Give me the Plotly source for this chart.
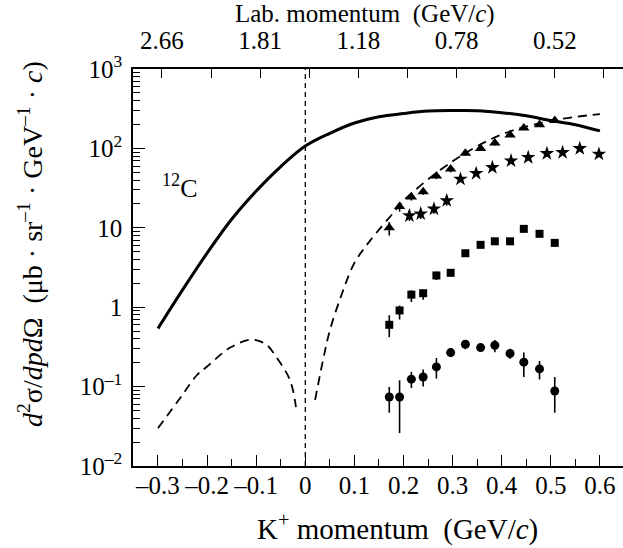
import plotly.graph_objects as go

# ---------------- data ----------------
# theory curves (K+ momentum GeV/c, cross section)
solid_p = [-0.30, -0.25, -0.20, -0.15, -0.10, -0.05, 0.00, 0.05, 0.10, 0.15, 0.20, 0.25, 0.30, 0.35, 0.40, 0.45, 0.50, 0.55, 0.60]
solid_v = [0.54, 1.65, 4.8, 12.8, 29, 59, 107, 155, 209, 251, 275, 295, 300, 299, 282, 257, 224, 199, 166]

dash_left_p = [-0.30, -0.25, -0.221, -0.20, -0.153, -0.109, -0.08, -0.058, -0.031, -0.019]
dash_left_v = [0.030, 0.079, 0.139, 0.179, 0.31, 0.39, 0.34, 0.23, 0.12, 0.055]

dash_right_p = [0.02, 0.035, 0.05, 0.075, 0.10, 0.132, 0.183, 0.20, 0.30, 0.40, 0.50, 0.60]
dash_right_v = [0.068, 0.2, 0.51, 1.5, 3.6, 6.9, 16.4, 22, 69, 150, 222, 271]

# measured points
p_data = [0.171, 0.192, 0.216, 0.240, 0.267, 0.296, 0.326, 0.357, 0.386, 0.417, 0.445, 0.477, 0.508]

circles = [0.074, 0.074, 0.124, 0.132, 0.177, 0.268, 0.341, 0.310, 0.331, 0.261, 0.203, 0.167, 0.088]
circ_hi = [0.099, 0.12, 0.153, 0.164, 0.229, 0.305, 0.38, 0.345, 0.385, 0.30, 0.268, 0.21, 0.132]
circ_lo = [0.047, 0.026, 0.096, 0.10, 0.126, 0.235, 0.296, 0.28, 0.27, 0.225, 0.132, 0.123, 0.047]

squares = [0.60, 0.91, 1.44, 1.50, 2.51, 2.71, 4.78, 6.1, 6.76, 6.76, 9.7, 8.4, 6.46]
sq_hi = [0.79, 1.05, 1.63, 1.66, 2.8, 3.0, 5.2, 6.6, 7.3, 7.3, 10.5, 9.0, 7.1]
sq_lo = [0.42, 0.70, 1.16, 1.24, 2.2, 2.45, 4.4, 5.6, 6.2, 6.2, 9.0, 7.8, 5.8]

triangles = [10, 18.6, 24.5, 28.5, 45, 55, 87, 100, 117, 148, 181, 198, 225]
tri_hi = [11.8, 21, 27, 31, 49, 60, 93, 107, 125, 157, 192, 210, 238]
tri_lo = [8.0, 16, 22, 26, 41, 50, 81, 93, 109, 139, 170, 186, 212]

p_star = [0.212, 0.235, 0.262, 0.288, 0.316, 0.348, 0.381, 0.419, 0.454, 0.492, 0.524, 0.559, 0.598]
stars = [14.2, 15.0, 17.3, 22, 41, 48.4, 57.5, 69.8, 76.9, 86.3, 88.8, 99.7, 84.8]
star_hi = [16.5, 17.5, 20, 25.5, 44, 52, 61.5, 74, 81.5, 91, 94, 106, 90]
star_lo = [12.2, 12.9, 15, 19, 38, 45, 54, 66, 72.5, 82, 84, 94, 80]

# axis ticks
x_tickvals = [-0.3, -0.2, -0.1, 0.0, 0.1, 0.2, 0.3, 0.4, 0.5, 0.6]
x_ticktext = ["–0.3", "–0.2", "–0.1", "0", "0.1", "0.2", "0.3", "0.4", "0.5", "0.6"]
top_tickvals = [-0.292, -0.192, -0.092, 0.008, 0.108, 0.208, 0.308, 0.408, 0.508, 0.608]
top_ticktext = ["2.66", "", "1.81", "", "1.18", "", "0.78", "", "0.52", ""]
y_tickvals = [0.01, 0.1, 1, 10, 100, 1000]
y_ticktext = ["10<sup>–2</sup>", "10<sup>–1</sup>", "1", "10", "10<sup>2</sup>", "10<sup>3</sup>"]

FONT = "Liberation Serif"
W, H = 623, 548
ML, MR, MT, MB = 133, 0, 69, 82
XR = [-0.3509, 0.647]

def err(vals, hi, lo):
    return dict(type="data", symmetric=False,
                array=[h - v for v, h in zip(vals, hi)],
                arrayminus=[v - l for v, l in zip(vals, lo)],
                color="black", thickness=1.6, width=0)

fig = go.Figure()

fig.add_trace(go.Scatter(x=solid_p, y=solid_v, mode="lines", line=dict(color="black", width=3, shape="spline"),
                         showlegend=False, hoverinfo="skip"))
fig.add_trace(go.Scatter(x=dash_left_p, y=dash_left_v, mode="lines",
                         line=dict(color="black", width=1.8, dash="9px,6px", shape="spline"),
                         showlegend=False, hoverinfo="skip"))
fig.add_trace(go.Scatter(x=dash_right_p, y=dash_right_v, mode="lines",
                         line=dict(color="black", width=1.8, dash="9px,6px", shape="spline"),
                         showlegend=False, hoverinfo="skip"))

fig.add_trace(go.Scatter(x=p_data, y=circles, mode="markers", marker=dict(symbol="circle", size=9, color="black"),
                         error_y=err(circles, circ_hi, circ_lo), showlegend=False))
fig.add_trace(go.Scatter(x=p_data, y=squares, mode="markers", marker=dict(symbol="square", size=8, color="black"),
                         error_y=err(squares, sq_hi, sq_lo), showlegend=False))
fig.add_trace(go.Scatter(x=p_data, y=triangles, mode="markers", marker=dict(symbol="triangle-up", size=10, color="black"),
                         error_y=err(triangles, tri_hi, tri_lo), showlegend=False))
fig.add_trace(go.Scatter(x=p_star, y=stars, mode="markers", marker=dict(symbol="star", size=11, color="black"),
                         error_y=err(stars, star_hi, star_lo), showlegend=False))

# invisible trace to activate the top axis
fig.add_trace(go.Scatter(x=[], y=[], xaxis="x2", yaxis="y", showlegend=False, hoverinfo="skip"))

fig.add_vline(x=0, line=dict(color="black", width=1.3, dash="5px,4px"))

minor_y = [m * 10 ** e for e in range(-2, 3) for m in range(2, 10)]

fig.update_layout(
    width=W, height=H,
    margin=dict(l=ML, r=MR, t=MT, b=MB),
    paper_bgcolor="white", plot_bgcolor="white",
    font=dict(family=FONT, size=25, color="black"),
    xaxis=dict(range=XR, showgrid=False, zeroline=False, showline=True, linecolor="black", linewidth=1.5,
               ticks="inside", ticklen=11, tickwidth=1.3, tickcolor="black",
               tickmode="array", tickvals=x_tickvals, ticktext=x_ticktext,
               minor=dict(ticks="inside", ticklen=7, tickwidth=1.3, tickcolor="black", dtick=0.05, tick0=0),
               tickfont=dict(size=25), ticklabelstandoff=-4),
    xaxis2=dict(range=XR, overlaying="x", side="top", anchor="y", showgrid=False, zeroline=False,
                showline=True, linecolor="black", linewidth=1.5,
                ticks="inside", ticklen=9, tickwidth=1.3, tickcolor="black",
                tickmode="array", tickvals=top_tickvals, ticktext=top_ticktext,
                tickfont=dict(size=25), ticklabelstandoff=8),
    yaxis=dict(type="log", range=[-2, 3], showgrid=False, zeroline=False, showline=True, linecolor="black",
               linewidth=1.5, ticks="inside", ticklen=12, tickwidth=1.3, tickcolor="black",
               tickmode="array", tickvals=y_tickvals, ticktext=y_ticktext,
               minor=dict(ticks="inside", ticklen=7, tickwidth=1.1, tickcolor="black",
                          tickmode="array", tickvals=minor_y),
               tickfont=dict(size=25), ticklabelstandoff=4),
)

fig.add_annotation(text="Lab. momentum  (GeV/<i>c</i>)", xref="paper", yref="paper",
                   x=(365 - ML) / (W - ML - MR), y=(H - MB - 14) / (H - MT - MB),
                   xanchor="center", yanchor="middle", showarrow=False, font=dict(size=25))
fig.add_annotation(text="K<sup>+</sup> momentum  (GeV/<i>c</i>)", xref="paper", yref="paper",
                   x=(397 - ML) / (W - ML - MR), y=(H - MB - 527) / (H - MT - MB),
                   xanchor="center", yanchor="middle", showarrow=False, font=dict(size=29))
fig.add_annotation(text="<i>d</i><sup>2</sup>σ/<i>dpd</i>Ω  (μb · sr<sup>–1</sup> · GeV<sup>–1</sup> · <i>c</i>)",
                   xref="paper", yref="paper", textangle=-90,
                   x=(30 - ML) / (W - ML - MR), y=(H - MB - 244) / (H - MT - MB),
                   xanchor="center", yanchor="middle", showarrow=False, font=dict(size=28))
fig.add_annotation(text="<sup>12</sup>C", xref="x", yref="y", x=-0.255, y=1.52,
                   xanchor="center", yanchor="middle", showarrow=False, font=dict(size=26))

fig.write_html("out.html", post_script="document.body.style.margin='0';",
               config={"displayModeBar": False})
